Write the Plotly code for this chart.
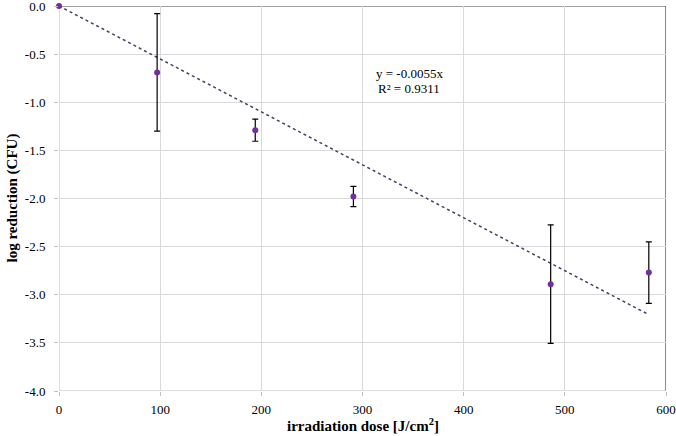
import plotly.graph_objects as go

# Data
dose = [0, 97, 194, 291, 486, 583]
log_red = [0.0, -0.69, -1.29, -1.98, -2.89, -2.77]
err = [0.0, 0.61, 0.115, 0.105, 0.615, 0.32]

slope = -0.0055
fit_x = [0, 583]
fit_y = [slope * v for v in fit_x]

x_ticks = [0, 100, 200, 300, 400, 500, 600]
y_ticks = [0.0, -0.5, -1.0, -1.5, -2.0, -2.5, -3.0, -3.5, -4.0]
y_labels = ["0.0", "-0.5", "-1.0", "-1.5", "-2.0", "-2.5", "-3.0", "-3.5", "-4.0"]

serif = "Liberation Serif"

fig = go.Figure()

# Linear trendline through origin
fig.add_trace(go.Scatter(
    x=fit_x, y=fit_y, mode="lines",
    line=dict(color="#4a3d5e", width=1.5, dash="dot"),
    showlegend=False, hoverinfo="skip"))

# Measurements with error bars
fig.add_trace(go.Scatter(
    x=dose, y=log_red, mode="markers",
    marker=dict(color="#7030A0", size=6),
    error_y=dict(type="data", array=err, visible=True,
                 color="black", thickness=1.2, width=3),
    showlegend=False, cliponaxis=False))

# Trendline equation, one annotation per line
fig.add_annotation(
    x=346, y=-0.70, xref="x", yref="y", text="y = -0.0055x",
    showarrow=False, borderpad=0,
    font=dict(family=serif, size=13, color="black"))
fig.add_annotation(
    x=346, y=-0.86, xref="x", yref="y", text="R² = 0.9311",
    showarrow=False, borderpad=0,
    font=dict(family=serif, size=13, color="black"))

# Axis titles
fig.add_annotation(
    x=0.5, y=0, xref="paper", yref="paper", yshift=-45, yanchor="bottom",
    text="<b>irradiation dose [J/cm<sup>2</sup>]</b>", showarrow=False,
    font=dict(family=serif, size=15, color="black"))
fig.add_annotation(
    x=0, y=0.5, xref="paper", yref="paper", xshift=-47, xanchor="center",
    text="<b>log reduction (CFU)</b>", showarrow=False, textangle=-90,
    font=dict(family=serif, size=15, color="black"))

fig.update_xaxes(
    range=[0, 600], tickvals=x_ticks, showgrid=True, gridcolor="#d9d9d9",
    zeroline=False, showline=False, ticks="outside", ticklen=4,
    tickcolor="#bfbfbf", ticklabeloverflow="allow", automargin=False,
    ticklabelstandoff=2,
    tickfont=dict(family=serif, size=13, color="black"))

fig.update_yaxes(
    range=[-4, 0], tickvals=y_ticks, ticktext=y_labels, showgrid=True,
    gridcolor="#d9d9d9", zeroline=False, showline=False, ticks="outside",
    ticklen=4, tickcolor="#bfbfbf", ticklabeloverflow="allow",
    automargin=False, ticklabelstandoff=6,
    tickfont=dict(family=serif, size=13, color="black"))

# Dark axis line along y = 0 and border at x = 600
fig.add_shape(type="line", xref="x", yref="y", x0=0, x1=600, y0=0, y1=0,
              line=dict(color="#404040", width=1.2), layer="below")
fig.add_shape(type="line", xref="x", yref="y", x0=600, x1=600, y0=-4, y1=0,
              line=dict(color="#404040", width=1.2), layer="below")
fig.add_shape(type="line", xref="x", yref="y", x0=0, x1=0, y0=-4, y1=0,
              line=dict(color="#bfbfbf", width=1), layer="below")
fig.add_shape(type="line", xref="x", yref="y", x0=0, x1=600, y0=-4, y1=-4,
              line=dict(color="#bfbfbf", width=1), layer="below")

fig.update_layout(
    width=676, height=436,
    margin=dict(l=59, r=10, t=6, b=45),
    plot_bgcolor="white", paper_bgcolor="white")

# Remove the default page margin so the figure fills the window.
fig.write_html("out.html", config={"displayModeBar": False},
               post_script="document.body.style.margin='0px';")
